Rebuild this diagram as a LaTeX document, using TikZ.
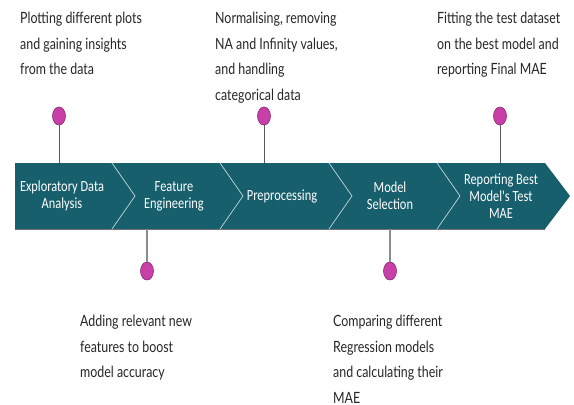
\documentclass[tikz,border=0pt]{standalone}
\usepackage{fontspec}
\usetikzlibrary{shapes.geometric, positioning}
\newfontfamily\notefont[FakeStretch=0.8]{Lato}
\newfontfamily\stagefont[FakeStretch=0.8]{Carlito}
\definecolor{bandteal}{HTML}{175F6C}
\definecolor{pinfill}{HTML}{C83FA8}
\definecolor{pinedge}{HTML}{8A2A78}
\tikzstyle{stage} = [text=white, align=center, font=\stagefont\fontsize{15.5}{17}\selectfont]
\tikzstyle{note} = [anchor=north west, align=left, inner sep=0pt, text=black!85, font=\notefont\fontsize{15.5}{25.5}\selectfont]
\tikzstyle{pin} = [ellipse, minimum width=13pt, minimum height=18pt, inner sep=0pt, fill=pinfill, draw=pinedge, line width=0.6pt]
\tikzstyle{stem} = [draw=black!65, line width=1pt]

\begin{document}
\begin{tikzpicture}[x=1pt,y=-1pt]
\useasboundingbox (0,0) rectangle (574,405);

% the arrow band
\fill[bandteal] (15,163) -- (545,163) -- (570,196) -- (545,229) -- (15,229) -- cycle;
\draw[black!55, line width=0.7pt] (15,229) -- (545,229);
\foreach \x in {112,220,329,437}{
\draw[white!75!bandteal, line width=0.7pt] (\x,163) -- (\x+23,196) -- (\x,229);
}
\coordinate (bandtop) at (0,163);
\coordinate (bandbot) at (0,229);

% stages
\node[stage] (eda) at (62,196) {Exploratory Data\\Analysis};
\node[stage] (feat) at (174,196) {Feature\\Engineering};
\node[stage] (prep) at (282,196) {Preprocessing};
\node[stage] (sel) at (390,196) {Model\\Selection};
\node[stage] (rep) at (501,196) {Reporting Best\\Model's Test\\MAE};

% pins above and below
\node[pin] (p1) at (59,116) {};
\node[pin] (p2) at (147,271) {};
\node[pin] (p3) at (264,116) {};
\node[pin] (p4) at (390,271) {};
\node[pin] (p5) at (500,116) {};
\foreach \p in {p1,p3,p5}{\draw[stem] (\p) -- (\p |- bandtop);}
\foreach \p in {p2,p4}{\draw[stem, draw=black!45, line width=1.3pt] (\p) -- (\p |- bandbot);}

% notes
\node[note] (n1) at (20,12) {Plotting different plots\\and gaining insights\\from the data};
\node[note] (n3) at (215,12) {Normalising, removing\\NA and Infinity values,\\and handling\\categorical data};
\node[note] (n5) at (437,12) {Fitting the test dataset\\on the best model and\\reporting Final MAE};
\node[note] (n2) at (80,315) {Adding relevant new\\features to boost\\model accuracy};
\node[note] (n4) at (333,315) {Comparing different\\Regression models\\and calculating their\\MAE};
\end{tikzpicture}
\end{document}
